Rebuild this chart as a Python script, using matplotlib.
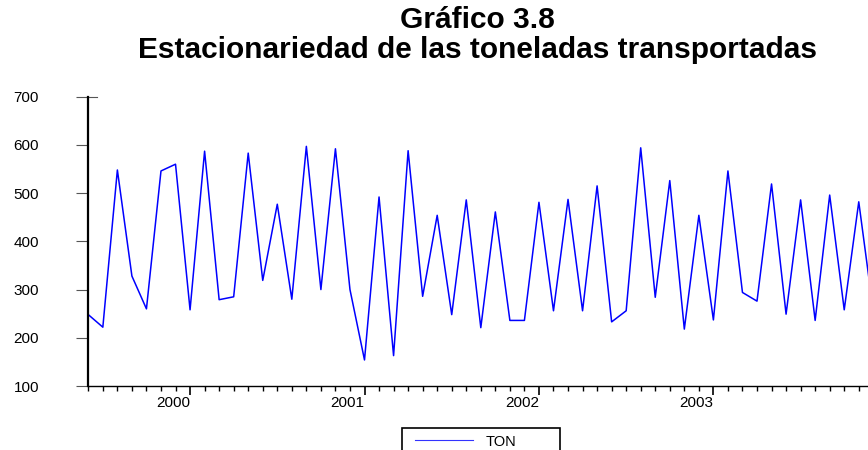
import matplotlib
matplotlib.use("Agg")
import matplotlib.pyplot as plt
from matplotlib.patches import Rectangle
from matplotlib.lines import Line2D

plt.rcParams['font.family'] = ['Liberation Sans', 'DejaVu Sans']

# monthly tonnage, starting 1999M06
series_name = 'TON'
ton = [248, 222, 548, 328, 260, 546, 560, 258, 587, 279, 285, 583,
       319, 477, 280, 597, 300, 592, 300, 154, 492, 163, 588, 286,
       454, 248, 486, 221, 461, 236, 236, 481, 256, 487, 256, 515,
       233, 256, 594, 284, 526, 218, 454, 237, 546, 294, 276, 519,
       249, 486, 236, 496, 258, 482, 255]
start_year, start_month = 1999, 6
years = [2000, 2001, 2002, 2003]
yticks = [100, 200, 300, 400, 500, 600, 700]

idx = list(range(len(ton)))
year_idx = [(y - start_year) * 12 + (1 - start_month) for y in years]

W, H = 868, 450
def fx(px):
    return px / W
def fy(py):
    return 1 - py / H

fig = plt.figure(figsize=(W / 100, H / 100), dpi=100)
ax = fig.add_axes([fx(88.3), fy(386), (873.3 - 88.3) / W, (386 - 96.7) / H])

line, = ax.plot(idx, ton, color='#0000ff', lw=1.1)
ax.set_xlim(0, len(ton) - 1)
ax.set_ylim(100, 700)

ax.spines['top'].set_visible(False)
ax.spines['right'].set_visible(False)
ax.spines['left'].set_linewidth(1.6)
ax.spines['bottom'].set_linewidth(1.0)

# small stub where the top tick crosses the axis
ax.plot([0, 9 / 785], [1, 1], transform=ax.transAxes, color='#555555',
        lw=0.8, clip_on=False)

ax.set_yticks(yticks)
ax.set_yticklabels([str(v) for v in yticks])
ax.tick_params(axis='y', length=9, width=0.8, color='#555555', pad=26.5, labelsize=11)

ax.set_xticks(year_idx)
ax.set_xticklabels([str(y) for y in years], ha='right')
ax.set_xticks(idx, minor=True)
ax.tick_params(axis='x', which='major', length=6.2, width=1.2, pad=1.0, labelsize=11)
ax.tick_params(axis='x', which='minor', length=3.5, width=1.0)

fig.text(fx(477), fy(28.5), 'Gráfico 3.8', ha='center', va='baseline',
         fontsize=21.5, fontweight='bold')
fig.text(fx(477), fy(58.5), 'Estacionariedad de las toneladas transportadas',
         ha='center', va='baseline', fontsize=21.5, fontweight='bold')

# legend box (cut by the bottom edge as in the source)
fig.add_artist(Rectangle((fx(401.7), fy(470)), (560 - 401.7) / W, (470 - 428.3) / H,
                         transform=fig.transFigure, fill=False, ec='black', lw=1.2))
fig.add_artist(Line2D([fx(415), fx(472.7)], [fy(440), fy(440)],
                      transform=fig.transFigure, color='#3333ff', lw=0.8))
fig.text(fx(486), fy(445.5), series_name, ha='left', va='baseline', fontsize=10.5)

fig.savefig('out.png', dpi=100)
